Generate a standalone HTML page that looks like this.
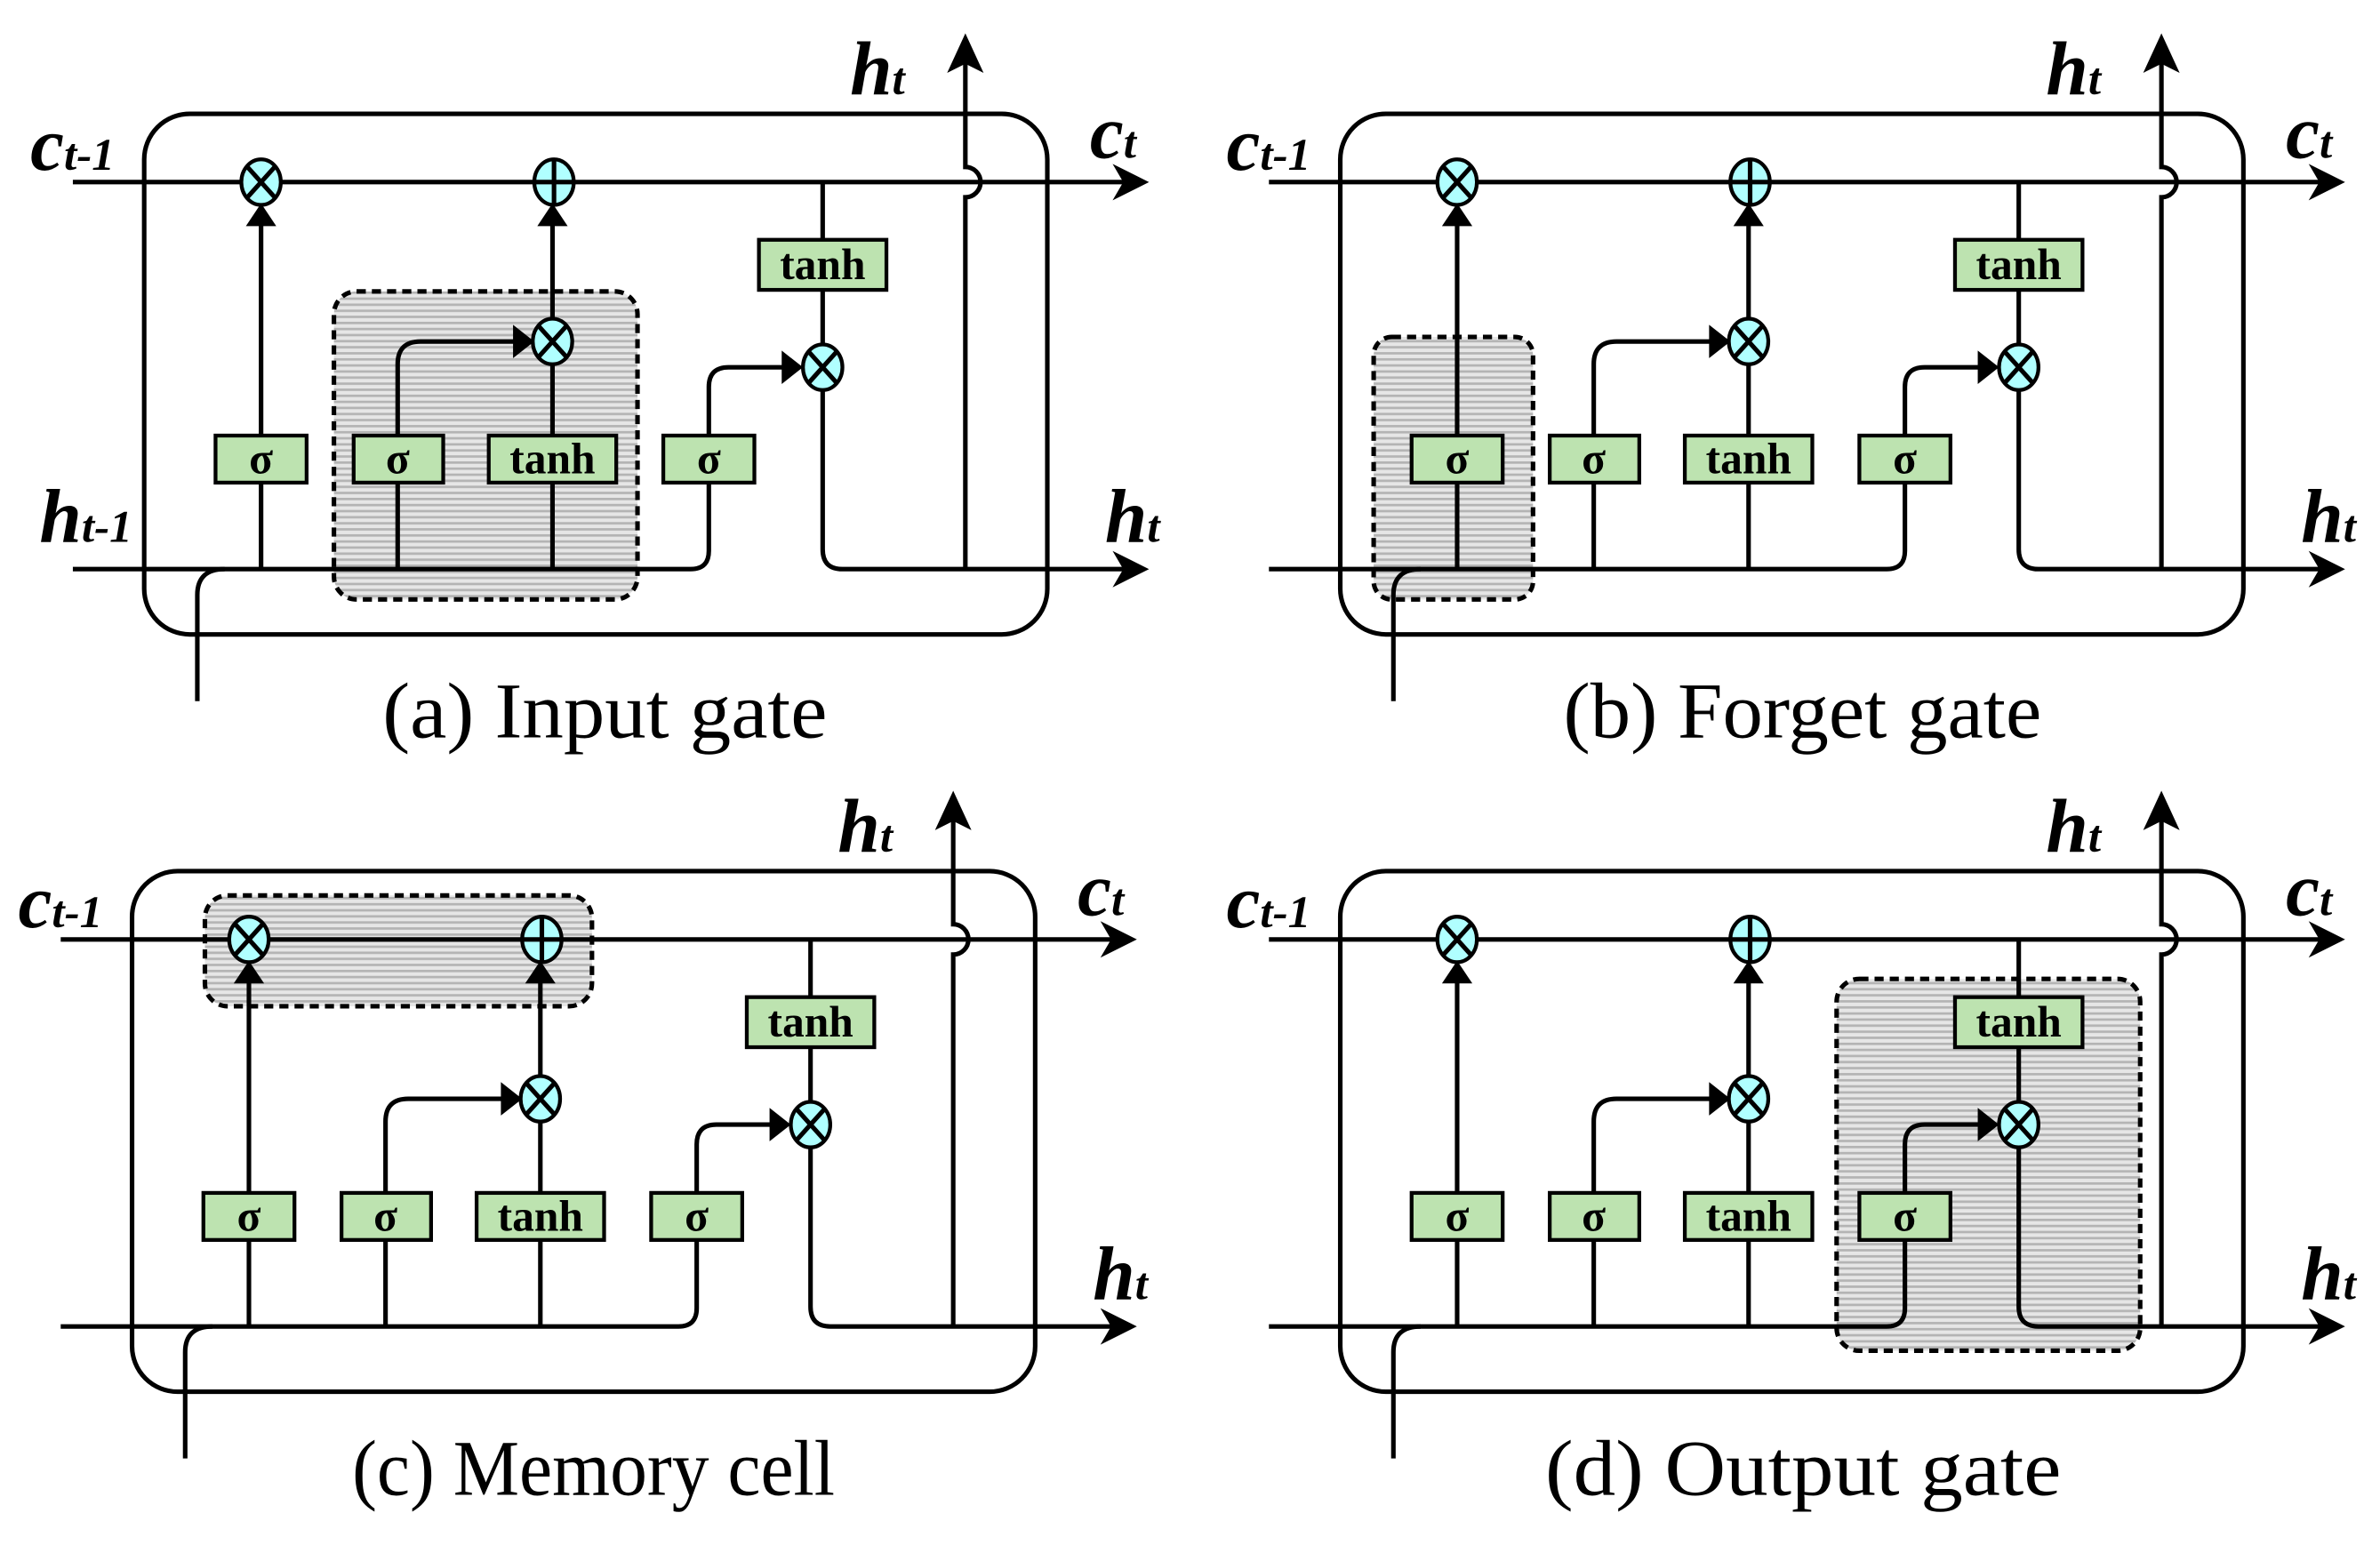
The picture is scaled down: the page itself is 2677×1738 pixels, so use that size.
<!DOCTYPE html>
<html><head><meta charset="utf-8"><style>
html,body{margin:0;padding:0;background:#fff;}
svg{display:block;}
.l{fill:none;stroke:#000;stroke-width:3;}
.bx{fill:#bde3b0;stroke:#000;stroke-width:2.5;}
.ci{fill:#b0ffff;stroke:#000;stroke-width:2.5;}
.bt{font-family:"Liberation Serif",serif;font-weight:bold;font-size:29px;text-anchor:middle;}
.lb{font-family:"Liberation Serif",serif;font-weight:bold;font-style:italic;}
.cap{font-family:"Liberation Serif",serif;font-size:52px;}
.dash{fill:url(#hatch);stroke:#000;stroke-width:3;stroke-dasharray:6 4;}
</style></head><body>
<svg width="2677" height="1738" viewBox="0 0 1568 1018" preserveAspectRatio="none" xmlns="http://www.w3.org/2000/svg">
<defs>
<pattern id="hatch" width="8" height="4" patternUnits="userSpaceOnUse">
<rect width="8" height="4" fill="#e6e6e6"/><rect width="8" height="1.6" fill="#b4b4b4"/>
</pattern>
<g id="cell">
<rect class="l" x="95" y="75" width="595" height="343" rx="30"/>
<path class="l" d="M48 120 H745"/><polygon points="757,120 733,108 740,120 733,132"/>
<path class="l" d="M48 375 H455 Q467 375 467 363 V318 M467 287 V255 Q467 242 480 242 H516"/>
<polygon points="529,242 515,231 515,253"/>
<path class="l" d="M542 256 V362 Q542 375 555 375 H745"/><polygon points="757,375 733,363 740,375 733,387"/>
<path class="l" d="M542 120 V158 M542 191 V228"/>
<path class="l" d="M636 375 V130 A10 10 0 0 0 636 110 V40"/><polygon points="636,22 624,48 636,42 648,48"/>
<path class="l" d="M130 462 V392 Q130 375 148 375"/>
<path class="l" d="M172 375 V318 M172 287 V148"/><polygon points="172,134 162,149 182,149"/>
<path class="l" d="M262 375 V318 M262 287 V240 Q262 225 277 225 H339"/><polygon points="352,225 338,214 338,236"/>
<path class="l" d="M364 375 V318 M364 287 V239 M364 211 V148"/><polygon points="364,134 354,149 374,149"/>
<rect class="bx" x="142" y="287" width="60" height="31"/>
<rect class="bx" x="233" y="287" width="59" height="31"/>
<rect class="bx" x="322" y="287" width="84" height="31"/>
<rect class="bx" x="437" y="287" width="60" height="31"/>
<rect class="bx" x="500" y="158" width="84" height="33"/>
</g>
<g id="oxs"><ellipse class="ci" cx="0" cy="0" rx="13" ry="15"/><path class="l" stroke-width="2.5" d="M-9 -10 L9 10 M9 -10 L-9 10"/></g>
<g id="op"><ellipse class="ci" cx="0" cy="0" rx="13" ry="15"/><path class="l" stroke-width="2.5" d="M-13 0 H13 M0 -15 V15"/></g>
<g id="ops">
<use href="#oxs" x="172" y="120"/><use href="#op" x="365" y="120"/>
<use href="#oxs" x="364" y="225"/><use href="#oxs" x="542" y="242"/>
</g>
</defs>

<g>
<rect class="dash" x="220" y="192" width="200" height="203" rx="15"/>
<use href="#cell"/><use href="#ops"/>
<text class="bt" x="172" y="312">σ</text><text class="bt" x="262" y="312">σ</text>
<text class="bt" x="364" y="312">tanh</text><text class="bt" x="467" y="312">σ</text>
<text class="bt" x="542" y="184">tanh</text>
<text class="lb" x="20" y="112"><tspan font-size="50">c</tspan><tspan font-size="30">t-1</tspan></text>
<text class="lb" x="26" y="357"><tspan font-size="50">h</tspan><tspan font-size="30">t-1</tspan></text>
<text class="lb" x="560" y="62"><tspan font-size="50">h</tspan><tspan font-size="30">t</tspan></text>
<text class="lb" x="718" y="104"><tspan font-size="50">c</tspan><tspan font-size="30">t</tspan></text>
<text class="lb" x="728" y="357"><tspan font-size="50">h</tspan><tspan font-size="30">t</tspan></text>
<text class="cap" x="252" y="486" textLength="293" lengthAdjust="spacingAndGlyphs">(a) Input gate</text>
</g>

<g transform="translate(788,0)">
<rect class="dash" x="117" y="222" width="105" height="173" rx="12"/>
<use href="#cell"/><use href="#ops"/>
<text class="bt" x="172" y="312">σ</text><text class="bt" x="262" y="312">σ</text>
<text class="bt" x="364" y="312">tanh</text><text class="bt" x="467" y="312">σ</text>
<text class="bt" x="542" y="184">tanh</text>
<text class="lb" x="20" y="112"><tspan font-size="50">c</tspan><tspan font-size="30">t-1</tspan></text>
<text class="lb" x="560" y="62"><tspan font-size="50">h</tspan><tspan font-size="30">t</tspan></text>
<text class="lb" x="718" y="104"><tspan font-size="50">c</tspan><tspan font-size="30">t</tspan></text>
<text class="lb" x="728" y="357"><tspan font-size="50">h</tspan><tspan font-size="30">t</tspan></text>
<text class="cap" x="242" y="486" textLength="315" lengthAdjust="spacingAndGlyphs">(b) Forget gate</text>
</g>

<g transform="translate(-8,499)">
<rect class="dash" x="143" y="91" width="255" height="73" rx="15"/>
<use href="#cell"/><use href="#ops"/>
<text class="bt" x="172" y="312">σ</text><text class="bt" x="262" y="312">σ</text>
<text class="bt" x="364" y="312">tanh</text><text class="bt" x="467" y="312">σ</text>
<text class="bt" x="542" y="184">tanh</text>
<text class="lb" x="20" y="112"><tspan font-size="50">c</tspan><tspan font-size="30">t-1</tspan></text>
<text class="lb" x="560" y="62"><tspan font-size="50">h</tspan><tspan font-size="30">t</tspan></text>
<text class="lb" x="718" y="104"><tspan font-size="50">c</tspan><tspan font-size="30">t</tspan></text>
<text class="lb" x="728" y="357"><tspan font-size="50">h</tspan><tspan font-size="30">t</tspan></text>
<text class="cap" x="240" y="486" textLength="318" lengthAdjust="spacingAndGlyphs">(c) Memory cell</text>
</g>

<g transform="translate(788,499)">
<rect class="dash" x="422" y="146" width="200" height="245" rx="15"/>
<use href="#cell"/><use href="#ops"/>
<text class="bt" x="172" y="312">σ</text><text class="bt" x="262" y="312">σ</text>
<text class="bt" x="364" y="312">tanh</text><text class="bt" x="467" y="312">σ</text>
<text class="bt" x="542" y="184">tanh</text>
<text class="lb" x="20" y="112"><tspan font-size="50">c</tspan><tspan font-size="30">t-1</tspan></text>
<text class="lb" x="560" y="62"><tspan font-size="50">h</tspan><tspan font-size="30">t</tspan></text>
<text class="lb" x="718" y="104"><tspan font-size="50">c</tspan><tspan font-size="30">t</tspan></text>
<text class="lb" x="728" y="357"><tspan font-size="50">h</tspan><tspan font-size="30">t</tspan></text>
<text class="cap" x="230" y="486" textLength="340" lengthAdjust="spacingAndGlyphs">(d) Output gate</text>
</g>
</svg>
</body></html>
